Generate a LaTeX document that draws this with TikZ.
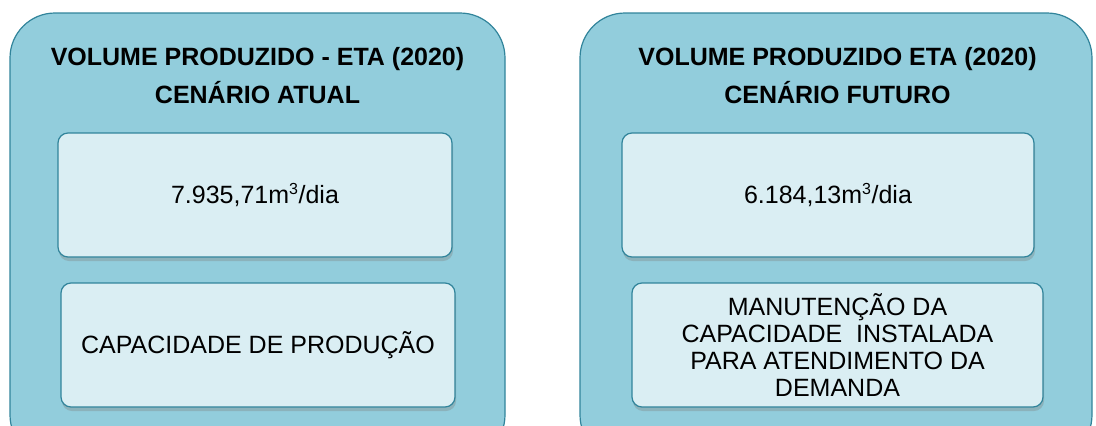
\documentclass[tikz,border=0pt]{standalone}
\usepackage{fontspec}
\setmainfont{Liberation Sans}
\usetikzlibrary{shadows}

\definecolor{outerfill}{HTML}{92CDDC}
\definecolor{outerline}{HTML}{31849B}
\definecolor{innerfill}{HTML}{DAEEF3}

\tikzset{
	outerbox/.style={draw=outerline,fill=outerfill,line width=1.2pt,rounded corners=45pt,inner sep=0pt},
	innerbox/.style={draw=outerline,fill=innerfill,line width=1.2pt,rounded corners=10pt,inner sep=0pt,
		drop shadow={shadow xshift=1pt,shadow yshift=-4pt,opacity=0.35}},
	titletext/.style={font=\fontsize{25}{38}\selectfont\bfseries,align=center},
	bodytext/.style={font=\fontsize{25}{27}\selectfont,align=center}
}

\begin{document}
\begin{tikzpicture}[x=1pt,y=-1pt]
	\useasboundingbox (0,0) rectangle (1096,426);
	\clip (0,0) rectangle (1096,426);
	
	%outer boxes
	\node[outerbox,minimum width=495pt,minimum height=447pt] (atual)  at (257.5,236.5) {};
	\node[outerbox,minimum width=512pt,minimum height=447pt] (futuro) at (836,236.5) {};
	
	%titles
	\node[titletext] (tatual)  at (257.5,76) {VOLUME PRODUZIDO - ETA (2020)\\CENÁRIO ATUAL};
	\node[titletext] (tfuturo) at (837.5,76) {VOLUME PRODUZIDO ETA (2020)\\CENÁRIO FUTURO};
	
	%inner boxes
	\node[innerbox,minimum width=394pt,minimum height=124pt] (volatual)  at (255,195) {};
	\node[innerbox,minimum width=394pt,minimum height=124pt] (capatual)  at (258,345) {};
	\node[innerbox,minimum width=412pt,minimum height=124pt] (volfuturo) at (828,195) {};
	\node[innerbox,minimum width=411pt,minimum height=124pt] (capfuturo) at (837.5,345) {};
	
	%inner labels
	\node[bodytext] at (volatual)  {7.935,71m\textsuperscript{\fontsize{16}{16}\selectfont 3}/dia};
	\node[bodytext] at (capatual)  {CAPACIDADE DE PRODUÇÃO};
	\node[bodytext] at (volfuturo) {6.184,13m\textsuperscript{\fontsize{16}{16}\selectfont 3}/dia};
	\node[bodytext] at (capfuturo) {MANUTENÇÃO DA\\CAPACIDADE\ \ INSTALADA\\PARA ATENDIMENTO DA\\DEMANDA};
\end{tikzpicture}
\end{document}
